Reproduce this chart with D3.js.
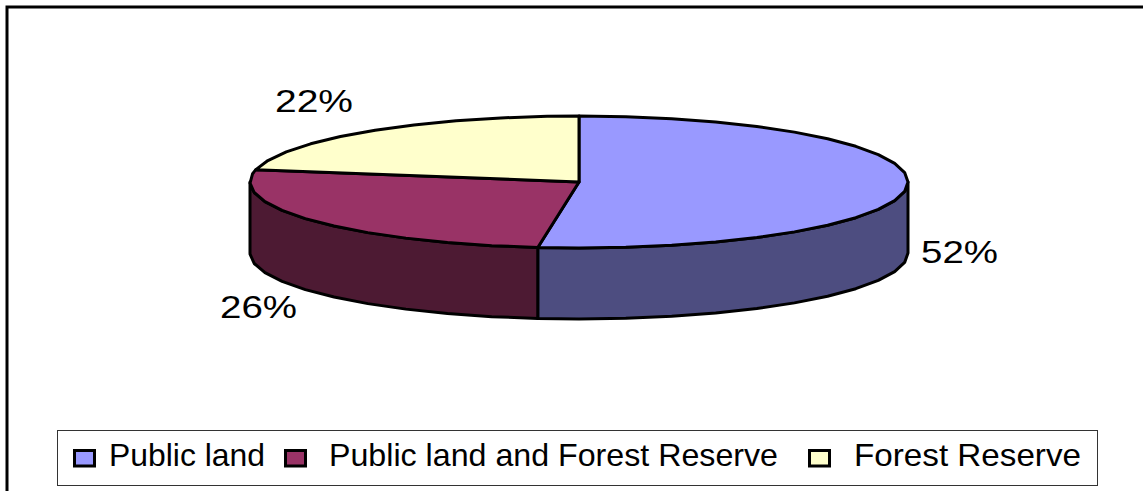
<!DOCTYPE html>
<html>
<head>
<meta charset="utf-8">
<script src="https://cdn.jsdelivr.net/npm/d3@7"></script>
<style>
  html, body { margin: 0; padding: 0; background: #fff; overflow: hidden; }
  text { font-family: "Liberation Sans", Arial, sans-serif; fill: #000; }
</style>
</head>
<body>
<div id="chart"></div>
<script>
var categories = ["Public land", "Public land and Forest Reserve", "Forest Reserve"];
var shares = [52, 26, 22];
var percentLabels = ["52%", "26%", "22%"];
var topColors = ["#9999ff", "#993366", "#ffffcc"];
var sideColors = ["#4d4d80", "#4d1a33", "#808066"];

var width = 1143,
    height = 491,
    depth = 71;

var svg = d3.select("#chart").append("svg")
  .attr("width", width)
  .attr("height", height);

// Outer frame runs off the right and bottom of the picture
svg.append("rect")
  .attr("x", 7).attr("y", 7)
  .attr("width", width + 20).attr("height", height + 20)
  .attr("fill", "#fff")
  .attr("stroke", "#000")
  .attr("stroke-width", 3);

// Flattened ellipse: unit circle mapped onto the page
var x = d3.scaleLinear().domain([-1, 1]).range([250, 908]),
    y = d3.scaleLinear().domain([-1, 1]).range([116, 248]);

var slices = d3.pie().sort(null)(shares);

// Coarse step, the source rim is visibly faceted
var STEP = Math.PI / 22;

// Sample the rim from a0 to a1 (angles clockwise from 12 o'clock)
function rim(a0, a1, drop) {
  var pts = d3.range(a0, a1, STEP).concat([a1]);
  return pts.map(function(a) {
    return [x(Math.sin(a)), y(-Math.cos(a)) + drop];
  });
}

var line = d3.line();

// Walls only show on the front half of the disc
var wallStart = Math.PI / 2,
    wallEnd = Math.PI * 3 / 2;

slices.forEach(function(d, i) {
  var a0 = Math.max(d.startAngle, wallStart),
      a1 = Math.min(d.endAngle, wallEnd);
  if (a1 <= a0) return;
  svg.append("path")
    .attr("d", line(rim(a0, a1, 0).concat(rim(a0, a1, depth).reverse())) + "Z")
    .attr("fill", sideColors[i])
    .attr("stroke", "#000")
    .attr("stroke-width", 3)
    .attr("stroke-linejoin", "round");
});

slices.forEach(function(d, i) {
  var center = [x(0), y(0)];
  svg.append("path")
    .attr("d", line([center].concat(rim(d.startAngle, d.endAngle, 0))) + "Z")
    .attr("fill", topColors[i])
    .attr("stroke", "#000")
    .attr("stroke-width", 3)
    .attr("stroke-linejoin", "round");
});

// Stretched text, the source picture is wider than the font
function stretched(g, str, left, right, base, size) {
  return g.append("text")
    .attr("x", left)
    .attr("y", base)
    .attr("textLength", right - left)
    .attr("lengthAdjust", "spacingAndGlyphs")
    .style("font-size", size + "px")
    .text(str);
}

var labelBoxes = [[921, 998, 263], [220, 297, 318], [275, 353, 112]];
percentLabels.forEach(function(t, i) {
  stretched(svg, t, labelBoxes[i][0], labelBoxes[i][1], labelBoxes[i][2], 32);
});

// Legend
var legend = svg.append("g");
legend.append("rect")
  .attr("x", 57.5).attr("y", 430.5)
  .attr("width", 1040).attr("height", 55)
  .attr("fill", "#fff")
  .attr("stroke", "#333")
  .attr("stroke-width", 1);

var swatchX = [74.5, 285.5, 809.5],
    textBoxes = [[109, 265], [329, 778], [854, 1081]];

categories.forEach(function(t, i) {
  legend.append("rect")
    .attr("x", swatchX[i]).attr("y", 450.5)
    .attr("width", 20).attr("height", 15.5)
    .attr("fill", topColors[i])
    .attr("stroke", "#000")
    .attr("stroke-width", 3);
  stretched(legend, t, textBoxes[i][0], textBoxes[i][1], 466, 32);
});
</script>
</body>
</html>
